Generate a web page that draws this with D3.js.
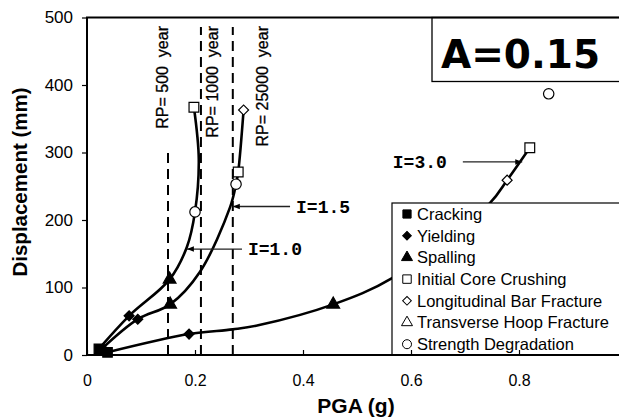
<!DOCTYPE html>
<html>
<head>
<meta charset="utf-8">
<script src="https://cdn.jsdelivr.net/npm/d3@7"></script>
<style>
body { margin: 0; background: #fff; }
text { font-family: "Liberation Sans", Arial, sans-serif; fill: #000; }
</style>
</head>
<body>
<script>
//data
var xTicks = [0, 0.2, 0.4, 0.6, 0.8];
var yTicks = [0, 100, 200, 300, 400, 500];

//curve points (PGA in g, displacement in mm)
var pgaI10 = [0.022, 0.078, 0.153, 0.185, 0.2, 0.207, 0.198];
var dispI10 = [9, 58, 112, 160, 212, 290, 367];
var pgaI15 = [0.026, 0.094, 0.154, 0.209, 0.265, 0.276, 0.28, 0.29];
var dispI15 = [8, 53, 75, 123, 219, 253, 271, 363];
var pgaI30 = [0.038, 0.189, 0.27, 0.317, 0.456, 0.565, 0.746, 0.778, 0.82];
var dispI30 = [4, 31, 38, 44, 75, 114, 225, 259, 307];

//damage state markers
var legendNames = ["Cracking", "Yielding", "Spalling", "Initial Core Crushing",
	"Longitudinal Bar Fracture", "Transverse Hoop Fracture", "Strength Degradation"];
var crackPga = [0.022, 0.026, 0.038], crackDisp = [9, 8, 4];
var yieldPga = [0.078, 0.094, 0.189], yieldDisp = [58, 53, 31];
var spallPga = [0.153, 0.154, 0.456], spallDisp = [112, 75, 75];
var crushPga = [0.198, 0.28, 0.82], crushDisp = [367, 271, 307];
var barPga = [0.29, 0.778], barDisp = [363, 259];
var hoopPga = [], hoopDisp = [];
var degradPga = [0.2, 0.276, 0.855], degradDisp = [212, 253, 387];

//return period lines
var rpNames = ["RP= 500  year", "RP= 1000  year", "RP= 25000  year"];
var rpPga = [0.15, 0.211, 0.27];
var rpTop = [300, 486, 486];

//I labels
var iNames = ["I=1.0", "I=1.5", "I=3.0"];
var iTipPga = [0.185, 0.27, 0.806];
var iTipDisp = [157, 220, 286];
var iTailPga = [0.287, 0.376, 0.696];

var width = 619, height = 419;
var svg = d3.select("body").append("svg")
	.attr("width", width)
	.attr("height", height);

var x = d3.scaleLinear().domain([0, 1]).range([87, 627]);
var y = d3.scaleLinear().domain([0, 500]).range([355, 17.5]);

function zip(a, b) { return a.map(function(v, i) { return [v, b[i]]; }); }

svg.append("defs").append("marker")
	.attr("id", "arrow")
	.attr("viewBox", "0 0 10 10")
	.attr("refX", 10).attr("refY", 5)
	.attr("markerWidth", 7).attr("markerHeight", 7)
	.attr("markerUnits", "userSpaceOnUse")
	.attr("orient", "auto")
	.append("path")
	.attr("d", "M0,1L10,5L0,9Z")
	.attr("fill", "#000");

//dashed return period lines
svg.selectAll(".rp")
	.data(rpPga)
	.enter().append("line")
	.attr("x1", function(d) { return x(d); })
	.attr("x2", function(d) { return x(d); })
	.attr("y1", y(0))
	.attr("y2", function(d, i) { return y(rpTop[i]); })
	.attr("stroke", "#000")
	.attr("stroke-width", 2)
	.attr("stroke-dasharray", "10,6");

var rpOffset = [-6, 11, 30];
svg.selectAll(".rptext")
	.data(rpNames)
	.enter().append("text")
	.attr("transform", function(d, i) { return "translate(" + (x(rpPga[i]) + rpOffset[i]) + "," + 26 + ") rotate(-90)"; })
	.attr("text-anchor", "end")
	.attr("dy", "0.35em")
	.style("font-size", "16px")
	.style("stroke", "#000")
	.style("stroke-width", 0.3)
	.style("white-space", "pre")
	.text(function(d) { return d; });

//curves
var line = d3.line()
	.x(function(d) { return x(d[0]); })
	.y(function(d) { return y(d[1]); })
	.curve(d3.curveCatmullRom.alpha(0.5));

svg.selectAll(".curve")
	.data([zip(pgaI10, dispI10), zip(pgaI15, dispI15), zip(pgaI30, dispI30)])
	.enter().append("path")
	.attr("d", line)
	.attr("fill", "none")
	.attr("stroke", "#000")
	.attr("stroke-width", 2.6);

//marker shapes
var shapes = [
	{ type: d3.symbolSquare, size: 90, fill: "#000", rot: 0 },
	{ type: d3.symbolSquare, size: 50, fill: "#000", rot: 45 },
	{ type: d3.symbolTriangle, size: 70, fill: "#000", rot: 0 },
	{ type: d3.symbolSquare, size: 95, fill: "#fff", rot: 0 },
	{ type: d3.symbolSquare, size: 50, fill: "#fff", rot: 45 },
	{ type: d3.symbolTriangle, size: 70, fill: "#fff", rot: 0 },
	{ type: d3.symbolCircle, size: 85, fill: "#fff", rot: 0 }
];
var markerSets = [zip(crackPga, crackDisp), zip(yieldPga, yieldDisp), zip(spallPga, spallDisp),
	zip(crushPga, crushDisp), zip(barPga, barDisp), zip(hoopPga, hoopDisp), zip(degradPga, degradDisp)];

markerSets.forEach(function(set, k) {
	svg.selectAll(".m" + k)
		.data(set)
		.enter().append("path")
		.attr("d", d3.symbol().type(shapes[k].type).size(shapes[k].size))
		.attr("transform", function(d) { return "translate(" + x(d[0]) + "," + y(d[1]) + ") rotate(" + shapes[k].rot + ")"; })
		.attr("fill", shapes[k].fill)
		.attr("stroke", "#000")
		.attr("stroke-width", 1.2);
});

//I labels with arrows
svg.selectAll(".iarrow")
	.data(iNames)
	.enter().append("line")
	.attr("x1", function(d, i) { return x(iTailPga[i]); })
	.attr("x2", function(d, i) { return x(iTipPga[i]); })
	.attr("y1", function(d, i) { return y(iTipDisp[i]); })
	.attr("y2", function(d, i) { return y(iTipDisp[i]); })
	.attr("stroke", "#222")
	.attr("stroke-width", 1.3)
	.attr("marker-end", "url(#arrow)");

svg.selectAll(".ilabel")
	.data(iNames)
	.enter().append("text")
	.attr("x", function(d, i) { return i == 2 ? x(iTailPga[i]) - 16 : x(iTailPga[i]) + 6; })
	.attr("y", function(d, i) { return y(iTipDisp[i]); })
	.attr("dy", "0.35em")
	.attr("text-anchor", function(d, i) { return i == 2 ? "end" : "start"; })
	.style("font-family", "'Liberation Mono', 'DejaVu Sans Mono', monospace")
	.style("font-weight", "bold")
	.style("font-size", "18px")
	.text(function(d) { return d; });

//A box
svg.append("rect")
	.attr("x", 432).attr("y", y(500))
	.attr("width", 200).attr("height", 64)
	.attr("fill", "#fff")
	.attr("stroke", "#000")
	.attr("stroke-width", 1.3);
svg.append("text")
	.attr("x", 441).attr("y", 68)
	.style("font-family", "'DejaVu Sans', sans-serif")
	.style("font-weight", "bold")
	.style("font-size", "39px")
	.text("A=0.15");

//legend
var legend = svg.append("g").attr("transform", "translate(392,203)");
legend.append("rect")
	.attr("width", 240).attr("height", y(0) - 203)
	.attr("fill", "#fff")
	.attr("stroke", "#000")
	.attr("stroke-width", 1.2);
var item = legend.selectAll(".item")
	.data(legendNames)
	.enter().append("g")
	.attr("transform", function(d, i) { return "translate(15," + (11 + i * 21.7) + ")"; });
item.append("path")
	.attr("d", function(d, i) { return d3.symbol().type(shapes[i].type).size(shapes[i].size * 0.75)(); })
	.attr("transform", function(d, i) { return "rotate(" + shapes[i].rot + ")"; })
	.attr("fill", function(d, i) { return shapes[i].fill; })
	.attr("stroke", "#000")
	.attr("stroke-width", 1);
item.append("text")
	.attr("x", 10)
	.attr("dy", "0.36em")
	.style("font-size", "16.5px")
	.text(function(d) { return d; });

//axes frame
svg.append("rect")
	.attr("x", x(0)).attr("y", y(500))
	.attr("width", x(1) - x(0)).attr("height", y(0) - y(500))
	.attr("fill", "none")
	.attr("stroke", "#000")
	.attr("stroke-width", 2);

var xAxis = svg.append("g")
	.attr("transform", "translate(0," + y(0) + ")")
	.call(d3.axisBottom(x).tickValues(xTicks).tickSizeInner(-5).tickSizeOuter(0).tickPadding(20)
		.tickFormat(function(d) { return d == 0 ? "0" : d3.format(".1f")(d); }));
xAxis.select(".domain").remove();
xAxis.selectAll("text").style("font-size", "16px").style("font-family", "'Liberation Sans', Arial, sans-serif");
xAxis.selectAll("line").attr("stroke-width", 1.2);

var yAxis = svg.append("g")
	.attr("transform", "translate(" + x(0) + ",0)")
	.call(d3.axisLeft(y).tickValues(yTicks).tickSizeInner(5).tickSizeOuter(0).tickPadding(9));
yAxis.select(".domain").remove();
yAxis.selectAll("text").style("font-size", "17px").style("font-family", "'Liberation Sans', Arial, sans-serif");
yAxis.selectAll("line").attr("stroke-width", 1.2);

//axis titles
svg.append("text")
	.attr("x", 356).attr("y", 413)
	.attr("text-anchor", "middle")
	.style("font-weight", "bold")
	.style("font-size", "21px")
	.text("PGA (g)");
svg.append("text")
	.attr("transform", "translate(27,182) rotate(-90)")
	.attr("text-anchor", "middle")
	.style("font-weight", "bold")
	.style("font-size", "20.5px")
	.text("Displacement (mm)");
</script>
</body>
</html>
